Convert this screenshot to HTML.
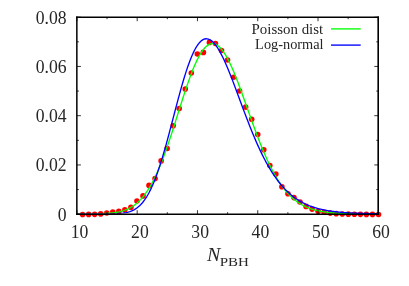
<!DOCTYPE html>
<html><head><meta charset="utf-8">
<style>
html,body{margin:0;padding:0;background:#fff;}
svg{display:block;will-change:transform;}
text{font-family:"Liberation Serif",serif;}
</style></head>
<body>
<svg width="409" height="286" viewBox="0 0 409 286">
<rect width="409" height="286" fill="#fff"/>
<g fill="#ff0000">
<circle cx="82.60" cy="214.44" r="2.8"/>
<circle cx="88.64" cy="214.41" r="2.8"/>
<circle cx="94.68" cy="214.35" r="2.8"/>
<circle cx="100.72" cy="213.90" r="2.8"/>
<circle cx="106.76" cy="213.00" r="2.8"/>
<circle cx="112.79" cy="212.00" r="2.8"/>
<circle cx="118.83" cy="211.40" r="2.8"/>
<circle cx="124.87" cy="209.70" r="2.8"/>
<circle cx="130.91" cy="207.30" r="2.8"/>
<circle cx="136.95" cy="201.00" r="2.8"/>
<circle cx="142.99" cy="195.90" r="2.8"/>
<circle cx="149.03" cy="185.40" r="2.8"/>
<circle cx="155.07" cy="178.60" r="2.8"/>
<circle cx="161.11" cy="160.90" r="2.8"/>
<circle cx="167.15" cy="148.50" r="2.8"/>
<circle cx="173.19" cy="125.80" r="2.8"/>
<circle cx="179.22" cy="108.50" r="2.8"/>
<circle cx="185.26" cy="89.10" r="2.8"/>
<circle cx="191.30" cy="73.00" r="2.8"/>
<circle cx="197.34" cy="54.00" r="2.8"/>
<circle cx="203.38" cy="52.40" r="2.8"/>
<circle cx="209.42" cy="42.40" r="2.8"/>
<circle cx="215.46" cy="43.50" r="2.8"/>
<circle cx="221.50" cy="50.50" r="2.8"/>
<circle cx="227.54" cy="60.00" r="2.8"/>
<circle cx="233.57" cy="77.20" r="2.8"/>
<circle cx="239.61" cy="91.00" r="2.8"/>
<circle cx="245.65" cy="107.10" r="2.8"/>
<circle cx="251.69" cy="119.30" r="2.8"/>
<circle cx="257.73" cy="134.50" r="2.8"/>
<circle cx="263.77" cy="149.70" r="2.8"/>
<circle cx="269.81" cy="165.50" r="2.8"/>
<circle cx="275.85" cy="174.10" r="2.8"/>
<circle cx="281.89" cy="186.80" r="2.8"/>
<circle cx="287.93" cy="193.70" r="2.8"/>
<circle cx="293.96" cy="197.60" r="2.8"/>
<circle cx="300.00" cy="202.00" r="2.8"/>
<circle cx="306.04" cy="206.40" r="2.8"/>
<circle cx="312.08" cy="209.10" r="2.8"/>
<circle cx="318.12" cy="211.30" r="2.8"/>
<circle cx="324.16" cy="212.30" r="2.8"/>
<circle cx="330.20" cy="213.10" r="2.8"/>
<circle cx="336.24" cy="213.64" r="2.8"/>
<circle cx="342.28" cy="213.96" r="2.8"/>
<circle cx="348.32" cy="214.15" r="2.8"/>
<circle cx="354.36" cy="214.28" r="2.8"/>
<circle cx="360.39" cy="214.35" r="2.8"/>
<circle cx="366.43" cy="214.39" r="2.8"/>
<circle cx="372.47" cy="214.42" r="2.8"/>
<circle cx="378.51" cy="214.43" r="2.8"/>
</g>
<clipPath id="cp"><rect x="77" y="17" width="153" height="196.55"/><rect x="230" y="17" width="148.2" height="198"/></clipPath>
<g clip-path="url(#cp)">
<path d="M76.90,213.90 L78.11,213.89 L79.31,213.89 L80.52,213.89 L81.72,213.89 L82.93,213.89 L84.13,213.88 L85.34,213.88 L86.54,213.87 L87.75,213.87 L88.96,213.86 L90.16,213.85 L91.37,213.84 L92.57,213.83 L93.78,213.82 L94.98,213.80 L96.19,213.78 L97.40,213.76 L98.60,213.73 L99.81,213.70 L101.01,213.66 L102.22,213.62 L103.42,213.57 L104.63,213.52 L105.83,213.45 L107.04,213.38 L108.25,213.29 L109.45,213.20 L110.66,213.09 L111.86,212.96 L113.07,212.82 L114.27,212.66 L115.48,212.48 L116.68,212.28 L117.89,212.06 L119.10,211.81 L120.30,211.53 L121.51,211.21 L122.71,210.87 L123.92,210.48 L125.12,210.06 L126.33,209.60 L127.54,209.08 L128.74,208.52 L129.95,207.90 L131.15,207.23 L132.36,206.50 L133.56,205.71 L134.77,204.84 L135.97,203.91 L137.18,202.90 L138.39,201.81 L139.59,200.64 L140.80,199.39 L142.00,198.05 L143.21,196.61 L144.41,195.08 L145.62,193.46 L146.82,191.73 L148.03,189.90 L149.24,187.97 L150.44,185.93 L151.65,183.79 L152.85,181.53 L154.06,179.17 L155.26,176.70 L156.47,174.12 L157.68,171.43 L158.88,168.64 L160.09,165.74 L161.29,162.75 L162.50,159.65 L163.70,156.46 L164.91,153.18 L166.11,149.82 L167.32,146.38 L168.53,142.86 L169.73,139.28 L170.94,135.63 L172.14,131.94 L173.35,128.20 L174.55,124.42 L175.76,120.62 L176.96,116.80 L178.17,112.97 L179.38,109.15 L180.58,105.34 L181.79,101.55 L182.99,97.80 L184.20,94.10 L185.40,90.45 L186.61,86.86 L187.82,83.36 L189.02,79.94 L190.23,76.62 L191.43,73.42 L192.64,70.33 L193.84,67.37 L195.05,64.55 L196.25,61.88 L197.46,59.37 L198.67,57.02 L199.87,54.84 L201.08,52.84 L202.28,51.03 L203.49,49.40 L204.69,47.97 L205.90,46.74 L207.10,45.71 L208.31,44.88 L209.52,44.26 L210.72,43.85 L211.93,43.64 L213.13,43.64 L214.34,43.85 L215.54,44.26 L216.75,44.87 L217.96,45.68 L219.16,46.68 L220.37,47.87 L221.57,49.25 L222.78,50.80 L223.98,52.53 L225.19,54.41 L226.39,56.46 L227.60,58.66 L228.81,61.00 L230.01,63.47 L231.22,66.06 L232.42,68.77 L233.63,71.59 L234.83,74.51 L236.04,77.52 L237.24,80.60 L238.45,83.76 L239.66,86.98 L240.86,90.25 L242.07,93.56 L243.27,96.91 L244.48,100.29 L245.68,103.68 L246.89,107.08 L248.10,110.49 L249.30,113.88 L250.51,117.27 L251.71,120.64 L252.92,123.98 L254.12,127.28 L255.33,130.55 L256.53,133.78 L257.74,136.96 L258.95,140.08 L260.15,143.15 L261.36,146.16 L262.56,149.10 L263.77,151.97 L264.97,154.77 L266.18,157.50 L267.38,160.16 L268.59,162.74 L269.80,165.24 L271.00,167.66 L272.21,170.01 L273.41,172.27 L274.62,174.45 L275.82,176.56 L277.03,178.58 L278.24,180.53 L279.44,182.39 L280.65,184.18 L281.85,185.89 L283.06,187.53 L284.26,189.09 L285.47,190.59 L286.67,192.01 L287.88,193.36 L289.09,194.65 L290.29,195.87 L291.50,197.03 L292.70,198.13 L293.91,199.17 L295.11,200.15 L296.32,201.08 L297.52,201.95 L298.73,202.78 L299.94,203.55 L301.14,204.29 L302.35,204.97 L303.55,205.62 L304.76,206.22 L305.96,206.79 L307.17,207.32 L308.38,207.81 L309.58,208.28 L310.79,208.71 L311.99,209.11 L313.20,209.48 L314.40,209.83 L315.61,210.16 L316.81,210.46 L318.02,210.74 L319.23,211.00 L320.43,211.24 L321.64,211.46 L322.84,211.66 L324.05,211.85 L325.25,212.03 L326.46,212.19 L327.66,212.34 L328.87,212.48 L330.08,212.60 L331.28,212.72 L332.49,212.82 L333.69,212.92 L334.90,213.01 L336.10,213.09 L337.31,213.17 L338.52,213.23 L339.72,213.30 L340.93,213.35 L342.13,213.41 L343.34,213.45 L344.54,213.50 L345.75,213.54 L346.95,213.57 L348.16,213.60 L349.37,213.63 L350.57,213.66 L351.78,213.68 L352.98,213.71 L354.19,213.73 L355.39,213.74 L356.60,213.76 L357.80,213.77 L359.01,213.79 L360.22,213.80 L361.42,213.81 L362.63,213.82 L363.83,213.83 L365.04,213.84 L366.24,213.84 L367.45,213.85 L368.66,213.85 L369.86,213.86 L371.07,213.86 L372.27,213.87 L373.48,213.87 L374.68,213.87 L375.89,213.88 L377.09,213.88 L378.30,213.88" fill="none" stroke="#00ff00" stroke-width="1.35" stroke-linejoin="round"/>
<path d="M76.90,213.90 L78.11,213.90 L79.31,213.90 L80.52,213.90 L81.72,213.90 L82.93,213.90 L84.13,213.90 L85.34,213.90 L86.54,213.90 L87.75,213.90 L88.96,213.90 L90.16,213.90 L91.37,213.90 L92.57,213.90 L93.78,213.90 L94.98,213.90 L96.19,213.90 L97.40,213.90 L98.60,213.90 L99.81,213.90 L101.01,213.90 L102.22,213.89 L103.42,213.89 L104.63,213.89 L105.83,213.88 L107.04,213.88 L108.25,213.87 L109.45,213.86 L110.66,213.84 L111.86,213.82 L113.07,213.80 L114.27,213.77 L115.48,213.73 L116.68,213.68 L117.89,213.62 L119.10,213.54 L120.30,213.44 L121.51,213.33 L122.71,213.19 L123.92,213.02 L125.12,212.82 L126.33,212.58 L127.54,212.30 L128.74,211.97 L129.95,211.59 L131.15,211.15 L132.36,210.63 L133.56,210.05 L134.77,209.38 L135.97,208.62 L137.18,207.77 L138.39,206.81 L139.59,205.73 L140.80,204.54 L142.00,203.22 L143.21,201.77 L144.41,200.17 L145.62,198.43 L146.82,196.53 L148.03,194.48 L149.24,192.27 L150.44,189.89 L151.65,187.34 L152.85,184.63 L154.06,181.75 L155.26,178.70 L156.47,175.49 L157.68,172.12 L158.88,168.59 L160.09,164.91 L161.29,161.09 L162.50,157.14 L163.70,153.06 L164.91,148.86 L166.11,144.57 L167.32,140.18 L168.53,135.71 L169.73,131.19 L170.94,126.61 L172.14,122.00 L173.35,117.38 L174.55,112.76 L175.76,108.15 L176.96,103.58 L178.17,99.05 L179.38,94.59 L180.58,90.22 L181.79,85.94 L182.99,81.78 L184.20,77.74 L185.40,73.84 L186.61,70.11 L187.82,66.54 L189.02,63.15 L190.23,59.95 L191.43,56.95 L192.64,54.17 L193.84,51.60 L195.05,49.25 L196.25,47.13 L197.46,45.25 L198.67,43.61 L199.87,42.20 L201.08,41.04 L202.28,40.11 L203.49,39.43 L204.69,38.99 L205.90,38.78 L207.10,38.80 L208.31,39.05 L209.52,39.52 L210.72,40.21 L211.93,41.11 L213.13,42.21 L214.34,43.51 L215.54,44.99 L216.75,46.65 L217.96,48.48 L219.16,50.47 L220.37,52.60 L221.57,54.88 L222.78,57.29 L223.98,59.83 L225.19,62.47 L226.39,65.21 L227.60,68.05 L228.81,70.97 L230.01,73.96 L231.22,77.01 L232.42,80.12 L233.63,83.27 L234.83,86.46 L236.04,89.67 L237.24,92.91 L238.45,96.16 L239.66,99.42 L240.86,102.68 L242.07,105.92 L243.27,109.16 L244.48,112.37 L245.68,115.56 L246.89,118.72 L248.10,121.84 L249.30,124.92 L250.51,127.96 L251.71,130.96 L252.92,133.90 L254.12,136.79 L255.33,139.62 L256.53,142.40 L257.74,145.11 L258.95,147.76 L260.15,150.35 L261.36,152.88 L262.56,155.34 L263.77,157.73 L264.97,160.05 L266.18,162.31 L267.38,164.50 L268.59,166.62 L269.80,168.68 L271.00,170.67 L272.21,172.59 L273.41,174.45 L274.62,176.24 L275.82,177.97 L277.03,179.64 L278.24,181.24 L279.44,182.79 L280.65,184.27 L281.85,185.70 L283.06,187.07 L284.26,188.38 L285.47,189.65 L286.67,190.85 L287.88,192.01 L289.09,193.12 L290.29,194.18 L291.50,195.19 L292.70,196.16 L293.91,197.09 L295.11,197.97 L296.32,198.81 L297.52,199.61 L298.73,200.38 L299.94,201.11 L301.14,201.80 L302.35,202.46 L303.55,203.09 L304.76,203.68 L305.96,204.25 L307.17,204.79 L308.38,205.30 L309.58,205.79 L310.79,206.25 L311.99,206.68 L313.20,207.10 L314.40,207.49 L315.61,207.86 L316.81,208.21 L318.02,208.54 L319.23,208.86 L320.43,209.15 L321.64,209.43 L322.84,209.70 L324.05,209.95 L325.25,210.19 L326.46,210.41 L327.66,210.62 L328.87,210.82 L330.08,211.01 L331.28,211.18 L332.49,211.35 L333.69,211.51 L334.90,211.65 L336.10,211.79 L337.31,211.92 L338.52,212.05 L339.72,212.16 L340.93,212.27 L342.13,212.37 L343.34,212.47 L344.54,212.56 L345.75,212.65 L346.95,212.73 L348.16,212.80 L349.37,212.87 L350.57,212.94 L351.78,213.00 L352.98,213.06 L354.19,213.11 L355.39,213.16 L356.60,213.21 L357.80,213.26 L359.01,213.30 L360.22,213.34 L361.42,213.37 L362.63,213.41 L363.83,213.44 L365.04,213.47 L366.24,213.50 L367.45,213.53 L368.66,213.55 L369.86,213.57 L371.07,213.60 L372.27,213.62 L373.48,213.64 L374.68,213.65 L375.89,213.67 L377.09,213.69 L378.30,213.70" fill="none" stroke="#0000ff" stroke-width="1.35" stroke-linejoin="round"/>
</g>
<path d="M331,28.9 H360.7" stroke="#00ff00" stroke-width="1.35"/>
<path d="M331,45.1 H360.7" stroke="#0000ff" stroke-width="1.35"/>
<path d="M76.90,214.20 v-4.00 M76.90,17.20 v4.00 M107.04,214.20 v-2.00 M107.04,17.20 v2.00 M137.18,214.20 v-4.00 M137.18,17.20 v4.00 M167.32,214.20 v-2.00 M167.32,17.20 v2.00 M197.46,214.20 v-4.00 M197.46,17.20 v4.00 M227.60,214.20 v-2.00 M227.60,17.20 v2.00 M257.74,214.20 v-4.00 M257.74,17.20 v4.00 M287.88,214.20 v-2.00 M287.88,17.20 v2.00 M318.02,214.20 v-4.00 M318.02,17.20 v4.00 M348.16,214.20 v-2.00 M348.16,17.20 v2.00 M378.30,214.20 v-4.00 M378.30,17.20 v4.00 M76.90,214.20 h4.00 M378.30,214.20 h-4.00 M76.90,189.57 h2.00 M378.30,189.57 h-2.00 M76.90,164.95 h4.00 M378.30,164.95 h-4.00 M76.90,140.32 h2.00 M378.30,140.32 h-2.00 M76.90,115.70 h4.00 M378.30,115.70 h-4.00 M76.90,91.07 h2.00 M378.30,91.07 h-2.00 M76.90,66.45 h4.00 M378.30,66.45 h-4.00 M76.90,41.82 h2.00 M378.30,41.82 h-2.00 M76.90,17.20 h4.00 M378.30,17.20 h-4.00" fill="none" stroke="#000" stroke-width="0.8"/>
<g stroke="#000" fill="none">
<path d="M76.85,16.4 V214.9" stroke-width="1.5"/>
<path d="M378.2,16.4 V214.9" stroke-width="1.6"/>
<path d="M76,17.2 H379" stroke-width="1.6"/>
<path d="M76,214.27 H379" stroke-width="1.45"/>
</g>
<g fill="#262626">
<text transform="translate(79.60,237.90) scale(0.930,1)" font-size="19" text-anchor="middle" >10</text>
<text transform="translate(139.88,237.90) scale(0.930,1)" font-size="19" text-anchor="middle" >20</text>
<text transform="translate(200.16,237.90) scale(0.930,1)" font-size="19" text-anchor="middle" >30</text>
<text transform="translate(260.44,237.90) scale(0.930,1)" font-size="19" text-anchor="middle" >40</text>
<text transform="translate(320.72,237.90) scale(0.930,1)" font-size="19" text-anchor="middle" >50</text>
<text transform="translate(381.00,237.90) scale(0.930,1)" font-size="19" text-anchor="middle" >60</text>
<text transform="translate(66.60,220.70) scale(0.930,1)" font-size="19" text-anchor="end" >0</text>
<text transform="translate(66.60,171.45) scale(0.930,1)" font-size="19" text-anchor="end" >0.02</text>
<text transform="translate(66.60,122.20) scale(0.930,1)" font-size="19" text-anchor="end" >0.04</text>
<text transform="translate(66.60,72.95) scale(0.930,1)" font-size="19" text-anchor="end" >0.06</text>
<text transform="translate(66.60,23.70) scale(0.930,1)" font-size="19" text-anchor="end" >0.08</text>
<text transform="translate(323.20,33.60) scale(1.050,1)" font-size="14.2" text-anchor="end" >Poisson dist</text>
<text transform="translate(323.60,49.40) scale(1.010,1)" font-size="14.2" text-anchor="end" >Log-normal</text>
<text transform="translate(207.00,260.70) scale(1.060,1)" font-size="18.9" text-anchor="start" font-style="italic">N</text>
<text transform="translate(219.70,265.50) scale(1.130,1)" font-size="13.3" text-anchor="start" >PBH</text>
</g>
</svg>
</body></html>
